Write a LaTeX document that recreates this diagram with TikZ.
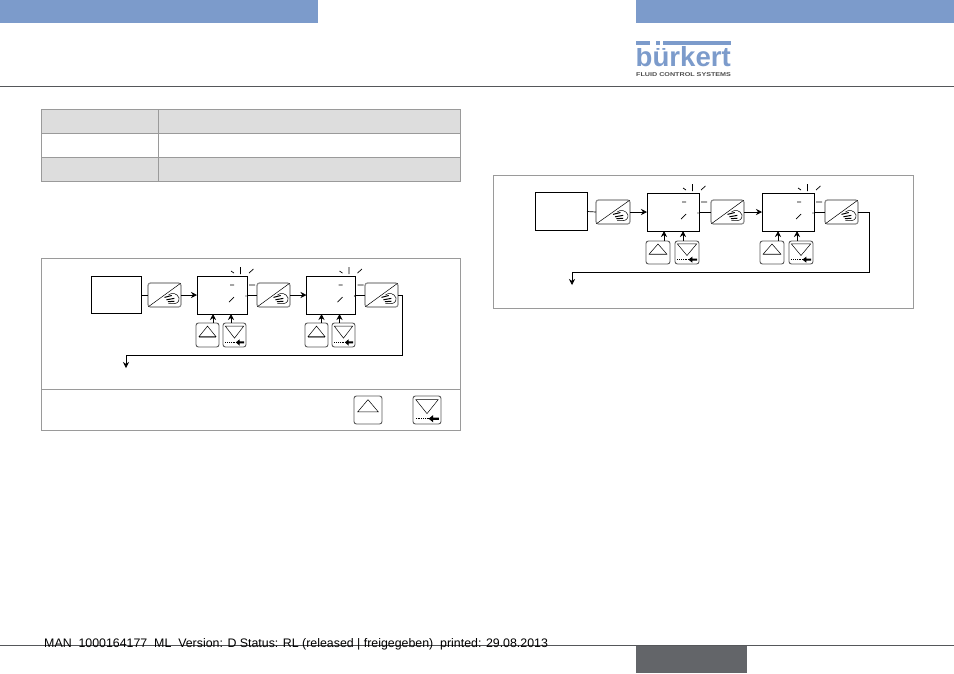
\documentclass[tikz,border=0pt]{standalone}
\usepackage{fontspec}
\setmainfont{Liberation Sans}
\usetikzlibrary{calc,arrows.meta}
\definecolor{hdrblue}{HTML}{7C9BCB}
\definecolor{rulegray}{HTML}{9A9A9A}
\definecolor{cellgray}{HTML}{DDDDDD}
\definecolor{darkrule}{HTML}{55575A}
\definecolor{pagebox}{HTML}{636569}
\definecolor{keygray}{HTML}{8C8C8C}
\tikzset{
  frameline/.style={draw=rulegray,line width=0.9pt},
  cell/.style={frameline},
  shade cell/.style={frameline,fill=cellgray},
  plainbox/.style={draw=black,line width=0.8pt,inner sep=0pt,outer sep=0pt,anchor=north west},
  conn/.style={draw=black,line width=0.7pt},
  arrowconn/.style={conn,-{Stealth[length=6pt,width=6pt]}},
  ray/.style={draw=black,line width=0.7pt},
  keybase/.style 2 args={draw=black!65,line width=0.9pt,rounded corners=2.5pt,inner sep=0pt,outer sep=0pt,anchor=north west,minimum width=#1pt,minimum height=#2pt},
  presskey/.style={draw=keygray,line width=1.2pt,rounded corners=2.5pt,inner sep=0pt,outer sep=0pt,anchor=north west,
    minimum width=#1pt,minimum height=24pt},
}
\newcommand{\iconup}[4]{%
  \begin{scope}[shift={(#1.north west)},x=#2pt,y=-#3pt]
    \draw[#4,line width=1pt] (0.13,0.6)--(0.87,0.6);
    \draw[black,line width=0.5pt,line join=miter] (0.13,0.57)--(0.5,0.13)--(0.87,0.57)--cycle;
  \end{scope}}
\newcommand{\icondown}[3]{%
  \begin{scope}[shift={(#1.north west)},x=#2pt,y=-#3pt]
    \draw[black,line width=0.5pt] (0.1,0.13)--(0.5,0.63)--(0.9,0.13)--cycle;
    \draw[black,line width=1pt,dash pattern=on 1pt off 0.8pt] (0.1,0.81)--(0.6,0.81);
    \fill[black] (0.92,0.77)--(0.72,0.77)--(0.72,0.68)--(0.56,0.81)--(0.72,0.94)--(0.72,0.85)--(0.92,0.85)--cycle;
  \end{scope}}
\newcommand{\iconpress}[2]{%
  \begin{scope}[shift={(#1.north west)},x=#2pt,y=-24pt]
    \draw[black,line width=0.5pt] (0.01,0.99)--(0.99,0.01);
    \draw[black,line width=0.5pt] (0.62,0.5)..controls (0.72,0.38) and (0.88,0.42)..(0.94,0.62)..controls (0.95,0.76) and (0.9,0.84)..(0.8,0.86)--(0.62,0.86);
    \draw[black,line width=1pt] (0.5,0.6)--(0.72,0.52) (0.56,0.7)--(0.8,0.64) (0.6,0.78)--(0.8,0.76);
  \end{scope}}
\newcommand{\blink}[1]{%
  \begin{scope}[shift={(#1.north east)}]
    \draw[ray] (-6.5,-9)--(-6.5,-2) (-16,-5)--(-13,-3) (2,-3)--(6.5,-7);
    \draw[ray] (-17,9)--(-13,9) (2,9)--(8,9) (-18,26)--(-13,21);
    \fill[black] (-1,20) circle (0.6);
  \end{scope}}
\begin{document}
\begin{tikzpicture}[x=1pt,y=-1pt]
\useasboundingbox (0,0) rectangle (954,673);
% header
\fill[hdrblue] (0,0) rectangle (318,23);
\fill[hdrblue] (636,0) rectangle (954,23);
\node[inner sep=0pt,anchor=base west,text=hdrblue,font=\fontsize{27.6}{28}\selectfont\bfseries] (logo) at (635.5,66) {bürkert};
\fill[white] (636,45) rectangle (670,47.5);
\fill[hdrblue] (636,41) rectangle (650,45);
\fill[hdrblue] (655.5,41) rectangle (660,45);
\fill[hdrblue] (663,41) rectangle (731,45);
\node[inner sep=0pt,anchor=base west,text=black!70,font=\fontsize{5.6}{6}\selectfont\bfseries] (logosub) at (636,76) {\scalebox{1.28}[1]{FLUID CONTROL SYSTEMS}};
\draw[darkrule,line width=0.9pt] (0,86)--(954,86);
% table
\path[shade cell] (41,109) rectangle (158,133);
\path[shade cell] (158,109) rectangle (460,133);
\path[cell] (41,133) rectangle (158,157);
\path[cell] (158,133) rectangle (460,157);
\path[shade cell] (41,157) rectangle (158,181);
\path[shade cell] (158,157) rectangle (460,181);
% left frame
\path[frameline] (41,258) rectangle (460,430);
\draw[rulegray,line width=0.9pt] (41,389)--(460,389);
\node[keybase={28}{28}] (bigup) at (354,396) {};
\node[keybase={28}{28}] (bigdown) at (413,396) {};
\iconup{bigup}{28}{28}{white}
\icondown{bigdown}{28}{28}
% left diagram
\node[plainbox,minimum width=50pt,minimum height=37pt] (la) at (91,276.5) {};
\node[presskey=33] (lk1) at (148,283) {};
\node[plainbox,minimum width=50pt,minimum height=38pt] (lb) at (197,276) {};
\node[presskey=33] (lk2) at (257,283) {};
\node[plainbox,minimum width=49pt,minimum height=38pt] (lc) at (306.5,276) {};
\node[presskey=33] (lk3) at (365,283) {};
\node[keybase={23}{24}] (lu1) at (196,323) {};
\node[keybase={23}{24}] (ld1) at (223,323) {};
\node[keybase={23}{24}] (lu2) at (305,323) {};
\node[keybase={23}{24}] (ld2) at (332,323) {};
\iconpress{lk1}{33}\iconpress{lk2}{33}\iconpress{lk3}{33}
\iconup{lu1}{23}{24}{keygray}\iconup{lu2}{23}{24}{keygray}
\icondown{ld1}{23}{24}\icondown{ld2}{23}{24}
\coordinate (lcorner) at (402,355);
\coordinate (lend) at (126,368);
\draw[conn] (la.east)--(lk1.west);
\draw[arrowconn] (lk1.east)--(lb.west);
\draw[conn] (lb.east)--(lk2.west);
\draw[arrowconn] (lk2.east)--(lc.west);
\draw[conn] (lc.east)--(lk3.west);
\draw[arrowconn] (lk3.east) -| (lcorner) -| (lend);
\draw[arrowconn] ([xshift=5.5pt]lu1.north)--([xshift=5.5pt]lu1.north |- lb.south);
\draw[arrowconn] ([xshift=-3.5pt]ld1.north)--([xshift=-3.5pt]ld1.north |- lb.south);
\draw[arrowconn] ([xshift=5pt]lu2.north)--([xshift=5pt]lu2.north |- lc.south);
\draw[arrowconn] ([xshift=-4pt]ld2.north)--([xshift=-4pt]ld2.north |- lc.south);
\blink{lb}
\blink{lc}
% right frame
\path[frameline] (493,175) rectangle (913,308);
\node[plainbox,minimum width=52pt,minimum height=38pt] (ra) at (535,192.5) {};
\node[presskey=34] (rk1) at (596,200) {};
\node[plainbox,minimum width=52pt,minimum height=38pt] (rb) at (647,193) {};
\node[presskey=33] (rk2) at (711,200) {};
\node[plainbox,minimum width=52pt,minimum height=38pt] (rc) at (762,193) {};
\node[presskey=33] (rk3) at (825,200) {};
\node[keybase={24}{23}] (ru1) at (646,241) {};
\node[keybase={24}{23}] (rd1) at (675,241) {};
\node[keybase={24}{23}] (ru2) at (760,241) {};
\node[keybase={24}{23}] (rd2) at (789,241) {};
\iconpress{rk1}{34}\iconpress{rk2}{33}\iconpress{rk3}{33}
\iconup{ru1}{24}{23}{keygray}\iconup{ru2}{24}{23}{keygray}
\icondown{rd1}{24}{23}\icondown{rd2}{24}{23}
\coordinate (rcorner) at (869,272);
\coordinate (rend) at (572,285);
\draw[conn] (ra.east)--(rk1.west);
\draw[arrowconn] (rk1.east)--(rb.west);
\draw[conn] (rb.east)--(rk2.west);
\draw[arrowconn] (rk2.east)--(rc.west);
\draw[conn] (rc.east)--(rk3.west);
\draw[arrowconn] (rk3.east) -| (rcorner) -| (rend);
\draw[arrowconn] ([xshift=6pt]ru1.north)--([xshift=6pt]ru1.north |- rb.south);
\draw[arrowconn] ([xshift=-4pt]rd1.north)--([xshift=-4pt]rd1.north |- rb.south);
\draw[arrowconn] ([xshift=6pt]ru2.north)--([xshift=6pt]ru2.north |- rc.south);
\draw[arrowconn] ([xshift=-4pt]rd2.north)--([xshift=-4pt]rd2.north |- rc.south);
\blink{rb}
\blink{rc}
% footer
\draw[darkrule,line width=0.9pt] (0,645.5)--(954,645.5);
\fill[pagebox] (636,646) rectangle (747,673);
\node[inner sep=0pt,anchor=base west,font=\fontsize{12.37}{14}\selectfont,text=black] (foot) at (44,647) {MAN\ \ 1000164177\ \ ML\ \ Version: D Status: RL (released | freigegeben)\ \ printed: 29.08.2013};
\end{tikzpicture}
\end{document}
